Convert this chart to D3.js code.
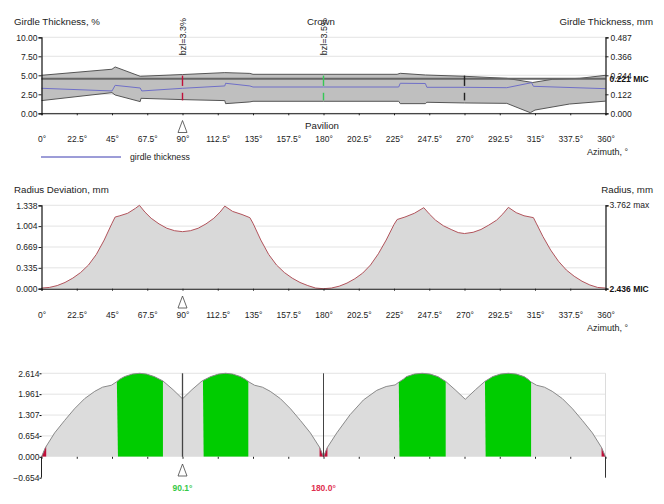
<!DOCTYPE html>
<html>
<head>
<meta charset="utf-8">
<script src="https://cdn.jsdelivr.net/npm/d3@7"></script>
<style>
    body { margin: 0; background: #fff; }
    svg { display: block; font-family: "Liberation Sans", Arial, sans-serif; }
    text { fill: #222; }
</style>
</head>
<body>
<div id="chart"></div>
<script>
var azimuthTicks = [0, 22.5, 45, 67.5, 90, 112.5, 135, 157.5, 180, 202.5, 225, 247.5, 270, 292.5, 315, 337.5, 360];

// girdle thickness, %
var crownEdge = [[0, 5.0], [45, 5.8], [47, 6.1], [63, 4.87], [90, 5.1], [117, 5.35], [133, 5.25], [135, 5.13], [180, 5.13],
    [227, 5.13], [229, 5.26], [245, 5.04], [270, 4.87], [297, 4.6], [313.5, 4.05], [326, 4.47], [343.6, 4.6], [360, 5.0]];
var pavilionEdge = [[0, 1.67], [45, 2.72], [47, 2.41], [63, 1.54], [63.5, 1.97], [90, 1.8], [117, 1.67], [117.5, 1.27], [133, 1.5],
    [135, 1.58], [180, 1.58], [228, 1.58], [229, 1.27], [245, 1.27], [246, 1.45], [270, 1.36], [297, 1.31], [312, 0.08], [315, 0.43], [337, 1.22], [360, 1.6]];
var thicknessLine = [[0, 3.29], [45, 2.94], [47, 3.68], [63, 3.33], [64, 2.94], [90, 3.29], [117, 3.6], [117.5, 3.95], [133, 3.6],
    [135, 3.46], [180, 3.46], [228, 3.46], [229, 3.95], [245, 3.92], [246, 3.42], [270, 3.42], [297, 3.37], [312.8, 4.03], [314, 3.55], [360, 3.24]];
var thicknessLeftTicks = [0, 2.5, 5, 7.5, 10];
var thicknessRightLabels = ["0.000", "0.122", "0.244", "0.366", "0.487"];
var micLevel = 4.56;
var bezelMarks = [[90, "#c0103a"], [180, "#35c855"], [270, "#222222"]];
var bezelLabels = [[90, "bzl=3.3%"], [180, "bzl=3.5%"]];

// radius deviation, mm
var radiusDeviation = [[0, 0.01], [5, 0.02], [10, 0.05], [15, 0.1], [20, 0.17], [25, 0.26], [30, 0.38], [35, 0.55], [40, 0.78], [45, 1.05], [47, 1.15],
    [50, 1.17], [55, 1.21], [60, 1.29], [62.5, 1.338], [66, 1.23], [70, 1.13], [75, 1.04], [80, 0.97], [85, 0.93], [90, 0.915],
    [95, 0.93], [100, 0.97], [105, 1.04], [110, 1.13], [114, 1.23], [117, 1.325], [122, 1.24], [128, 1.19], [133, 1.14], [135, 1.05],
    [140, 0.78], [145, 0.55], [150, 0.38], [155, 0.26], [160, 0.17], [165, 0.1], [170, 0.05], [175, 0.01], [180, 0],
    [185, 0.01], [190, 0.04], [195, 0.09], [200, 0.16], [205, 0.25], [210, 0.38], [215, 0.56], [220, 0.78], [225, 1.03], [227, 1.11],
    [232, 1.15], [238, 1.21], [244, 1.3], [247.5, 1.2], [251.5, 1.1], [256.5, 1.01], [261.5, 0.95], [266, 0.9], [270, 0.885],
    [275.5, 0.905], [280.5, 0.95], [285.5, 1.02], [290.5, 1.1], [294.5, 1.2], [298, 1.305], [303, 1.22], [308, 1.17], [314, 1.14], [316, 1.04],
    [320, 0.84], [325, 0.62], [330, 0.44], [335, 0.3], [340, 0.2], [345, 0.12], [350, 0.06], [355, 0.02], [360, 0.01]];
var radiusLeftTicks = [0, 0.335, 0.669, 1.004, 1.338];

// bottom profile
var profile = [[0, 0], [2.4, 0.28], [8.4, 0.75], [14.8, 1.14], [21, 1.5], [27.5, 1.82], [34, 2.05], [39, 2.18], [44.6, 2.24],
    [47.7, 2.34], [50, 2.43], [53, 2.51], [58, 2.59], [62.7, 2.614], [67, 2.59], [72, 2.51], [77.5, 2.375], [84, 2.1], [90, 1.815],
    [96, 2.1], [102.5, 2.375], [108, 2.51], [113, 2.59], [117.5, 2.614], [122, 2.59], [127, 2.51], [130, 2.43], [132.5, 2.34], [136, 2.24],
    [141, 2.18], [146, 2.05], [152.5, 1.82], [159, 1.5], [165.2, 1.14], [171.6, 0.75], [177.7, 0.28], [180, 0],
    [182.3, 0.28], [188.5, 0.75], [197, 1.32], [205.5, 1.78], [214, 2.08], [220, 2.2], [225.7, 2.25],
    [228.5, 2.35], [231, 2.43], [233, 2.51], [238, 2.59], [243, 2.614], [248, 2.59], [253, 2.51], [258, 2.36], [264, 2.1], [270.5, 1.8],
    [277, 2.1], [283, 2.36], [288, 2.51], [293, 2.59], [298, 2.614], [303, 2.59], [308, 2.51], [310.5, 2.43], [312.5, 2.34], [316, 2.24],
    [321, 2.18], [326, 2.05], [332.5, 1.82], [339, 1.5], [345.2, 1.14], [351.6, 0.75], [357.6, 0.28], [360, 0]];
var profileTicks = [-0.654, 0, 0.654, 1.307, 1.961, 2.614];
// green facets: azimuth at top and at bottom of each edge
var greenBands = [[48, 48.8, 77.5, 77.5], [103, 103.5, 132, 132], [228, 228.5, 258, 258], [283, 283.5, 312.5, 312.5]];
var redNotches = [[0, 3], [177.5, 182.5], [357.5, 360]];

var width = 664, height = 504;
var svg = d3.select("#chart").append("svg")
    .attr("width", width)
    .attr("height", height);

var x = d3.scaleLinear().domain([0, 360]).range([41.5, 605.5]);

function degrees(d) { return d + "°"; }

function addText(px, py, label, size, anchor, color, weight) {
    return svg.append("text")
        .attr("x", px)
        .attr("y", py)
        .attr("text-anchor", anchor || "start")
        .style("font-size", (size || 10) + "px")
        .style("fill", color || "#222")
        .style("font-weight", weight || "normal")
        .text(label);
}

function drawTriangle(top) {
    svg.append("path")
        .attr("d", "M" + x(90) + "," + top + "L" + (x(90) + 4.5) + "," + (top + 12) + "L" + (x(90) - 4.5) + "," + (top + 12) + "Z")
        .attr("fill", "#fff")
        .attr("stroke", "#444")
        .attr("stroke-width", 0.8);
}

function drawGrid(y, values) {
    svg.append("g").selectAll("line").data(values).enter().append("line")
        .attr("x1", x(0)).attr("x2", x(360))
        .attr("y1", function (d) { return y(d); })
        .attr("y2", function (d) { return y(d); })
        .attr("stroke", "#dcdcdc")
        .attr("stroke-width", 0.8);
}

// x axis with labels well below the ticks, room for the triangle between them
function drawAzimuth(baseY, padding, showLabels) {
    var axis = d3.axisBottom(x)
        .tickValues(azimuthTicks)
        .tickSize(2)
        .tickPadding(padding)
        .tickFormat(showLabels ? degrees : "");
    var g = svg.append("g").attr("transform", "translate(0," + baseY + ")").call(axis);
    g.selectAll("text").style("font-size", "8.5px");
    g.selectAll("line").attr("stroke", "#222");
    g.select(".domain").attr("stroke", "#111").attr("stroke-width", 1.1);
    return g;
}

function drawValueAxis(axis, posX) {
    var g = svg.append("g").attr("transform", "translate(" + posX + ",0)").call(axis);
    g.selectAll("text").style("font-size", "8.5px");
    g.select(".domain").attr("stroke", "#111").attr("stroke-width", 1.2);
    g.selectAll("line").attr("stroke", "#222");
    return g;
}

// ---- top chart: girdle thickness
var yThick = d3.scaleLinear().domain([0, 10]).range([113.3, 37.3]);
drawGrid(yThick, thicknessLeftTicks);

// both edges are sampled on their own angles, so join them as one closed path
var lineThick = d3.line().x(function (d) { return x(d[0]); }).y(function (d) { return yThick(d[1]); });
svg.append("path")
    .attr("d", lineThick(crownEdge.concat(pavilionEdge.slice().reverse())) + "Z")
    .attr("fill", "#bfbfbf");
svg.append("path").attr("d", lineThick(crownEdge)).attr("fill", "none").attr("stroke", "#555").attr("stroke-width", 1);
svg.append("path").attr("d", lineThick(pavilionEdge)).attr("fill", "none").attr("stroke", "#555").attr("stroke-width", 1);

svg.append("line")
    .attr("x1", x(0)).attr("x2", x(360))
    .attr("y1", yThick(micLevel)).attr("y2", yThick(micLevel))
    .attr("stroke", "#666").attr("stroke-width", 2);
svg.append("path").attr("d", lineThick(thicknessLine)).attr("fill", "none").attr("stroke", "#6f6fc8").attr("stroke-width", 1);

bezelMarks.forEach(function (m) {
    [[micLevel + 0.4, 3.6], [2.7, 1.7]].forEach(function (seg) {
        svg.append("line")
            .attr("x1", x(m[0])).attr("x2", x(m[0]))
            .attr("y1", yThick(seg[0])).attr("y2", yThick(seg[1]))
            .attr("stroke", m[1]).attr("stroke-width", 1.4);
    });
});

bezelLabels.forEach(function (b) {
    svg.append("text")
        .attr("transform", "translate(" + (x(b[0]) + 3) + "," + (yThick(7.5) - 1) + ") rotate(-90)")
        .style("font-size", "9px")
        .text(b[1]);
});

drawAzimuth(yThick(0), 21, true);
drawTriangle(120.5);

drawValueAxis(d3.axisLeft(yThick).tickValues(thicknessLeftTicks).tickSize(3).tickPadding(1)
    .tickFormat(d3.format(".2f")), x(0));
drawValueAxis(d3.axisRight(yThick).tickValues(thicknessLeftTicks).tickSize(3).tickPadding(2)
    .tickFormat(function (d, i) { return thicknessRightLabels[i]; }), x(360));
addText(609.5, yThick(micLevel) + 3, "0.221 MIC", 8.5, "start", "#111", "bold");

addText(14, 25, "Girdle Thickness, %", 9.7);
addText(653, 25, "Girdle Thickness, mm", 9.7, "end");
addText(321, 25, "Crown", 9.7, "middle");
addText(322, 129, "Pavilion", 9.7, "middle");
addText(587, 155, "Azimuth, °", 9);

svg.append("line")
    .attr("x1", 41).attr("x2", 121).attr("y1", 157).attr("y2", 157)
    .attr("stroke", "#3a3ab0").attr("stroke-width", 1);
addText(130, 160, "girdle thickness", 8.7);

// ---- middle chart: radius deviation
var yRadius = d3.scaleLinear().domain([0, 1.338]).range([288.7, 205.3]);
drawGrid(yRadius, radiusLeftTicks);

var radiusArea = d3.area()
    .x(function (d) { return x(d[0]); })
    .y0(yRadius(0))
    .y1(function (d) { return yRadius(d[1]); });
var radiusLine = d3.line()
    .x(function (d) { return x(d[0]); })
    .y(function (d) { return yRadius(d[1]); });

svg.append("path").attr("d", radiusArea(radiusDeviation)).attr("fill", "#d9d9d9");
svg.append("path").attr("d", radiusLine(radiusDeviation)).attr("fill", "none").attr("stroke", "#b2545c").attr("stroke-width", 1);

drawAzimuth(yRadius(0), 21, true);
drawTriangle(296);

drawValueAxis(d3.axisLeft(yRadius).tickValues(radiusLeftTicks).tickSize(3).tickPadding(1)
    .tickFormat(d3.format(".3f")), x(0));
drawValueAxis(d3.axisRight(yRadius).tickValues([0, 1.338]).tickSize(3).tickPadding(2)
    .tickFormat(""), x(360));
addText(609.5, yRadius(1.338) + 3, "3.762 max", 8.5);
addText(609.5, yRadius(0) + 3, "2.436 MIC", 8.5, "start", "#111", "bold");

addText(14, 193, "Radius Deviation, mm", 9.7);
addText(653, 193, "Radius, mm", 9.7, "end");
addText(587, 331, "Azimuth, °", 9);

// ---- bottom chart: profile with green facets
var yProfile = d3.scaleLinear().domain([-0.654, 2.614]).range([477.7, 373.3]);
drawGrid(yProfile, profileTicks.filter(function (d) { return d > 0; }));
svg.append("line").attr("x1", x(360)).attr("x2", x(360)).attr("y1", yProfile(2.614)).attr("y2", yProfile(0)).attr("stroke", "#dcdcdc");

var profileArea = d3.area()
    .x(function (d) { return x(d[0]); })
    .y0(yProfile(0))
    .y1(function (d) { return yProfile(d[1]); });
var profileLine = d3.line()
    .x(function (d) { return x(d[0]); })
    .y(function (d) { return yProfile(d[1]); });

svg.append("path").attr("d", profileArea(profile)).attr("fill", "#dcdcdc");

var defs = svg.append("defs");
greenBands.forEach(function (b, i) {
    defs.append("clipPath").attr("id", "band" + i).append("polygon")
        .attr("points", [[x(b[0]), yProfile(2.7)], [x(b[2]), yProfile(2.7)], [x(b[3]), yProfile(0)], [x(b[1]), yProfile(0)]].join(" "));
    svg.append("path").attr("d", profileArea(profile)).attr("fill", "#00cc00").attr("clip-path", "url(#band" + i + ")");
});
redNotches.forEach(function (n, i) {
    defs.append("clipPath").attr("id", "notch" + i).append("rect")
        .attr("x", x(n[0])).attr("width", x(n[1]) - x(n[0]))
        .attr("y", yProfile(0.6)).attr("height", yProfile(0) - yProfile(0.6));
    svg.append("path").attr("d", profileArea(profile)).attr("fill", "#c0103a").attr("clip-path", "url(#notch" + i + ")");
});
svg.append("path").attr("d", profileLine(profile)).attr("fill", "none").attr("stroke", "#8a8a8a").attr("stroke-width", 1);

svg.append("line").attr("x1", x(90)).attr("x2", x(90)).attr("y1", yProfile(2.614)).attr("y2", yProfile(0)).attr("stroke", "#444").attr("stroke-width", 1.3);
svg.append("line").attr("x1", x(180)).attr("x2", x(180)).attr("y1", yProfile(2.614)).attr("y2", yProfile(0)).attr("stroke", "#444").attr("stroke-width", 1);
svg.append("line").attr("x1", x(360)).attr("x2", x(360)).attr("y1", yProfile(0)).attr("y2", yProfile(-0.654)).attr("stroke", "#333").attr("stroke-width", 1);

var bottomAxis = drawAzimuth(yProfile(0), 0, false);
bottomAxis.select(".domain").remove();
drawTriangle(464);

var profileAxis = svg.append("g").attr("transform", "translate(" + x(0) + ",0)")
    .call(d3.axisLeft(yProfile).tickValues(profileTicks).tickSize(2).tickPadding(0)
        .tickFormat(d3.format(".3f")));
profileAxis.selectAll("text").style("font-size", "8.5px");
profileAxis.select(".domain").remove();
svg.append("line").attr("x1", x(0)).attr("x2", x(0)).attr("y1", yProfile(0)).attr("y2", yProfile(-0.654)).attr("stroke", "#222");

addText(x(90), 491, "90.1°", 8.5, "middle", "#35c845", "bold");
addText(x(180), 491, "180.0°", 8.5, "middle", "#e0304f", "bold");
</script>
</body>
</html>
